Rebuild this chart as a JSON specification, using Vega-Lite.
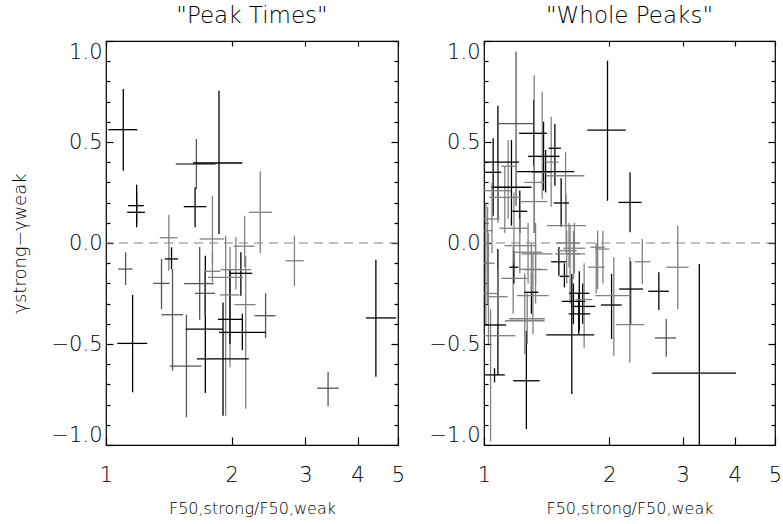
{
  "$schema": "https://vega.github.io/schema/vega-lite/v6.json",
  "background": "white",
  "padding": {"left": 10, "top": 4, "right": 2, "bottom": 2},
  "config": {
    "font": "DejaVu Sans",
    "view": {"stroke": "black", "strokeWidth": 1.2},
    "axis": {"domain": false, "grid": false, "labelFont": "DejaVu Sans", "labelFontSize": 21, "labelFontWeight": 200, "labelColor": "black", "tickColor": "black", "tickWidth": 1.2, "titleFont": "DejaVu Sans", "titleFontWeight": 200, "titleFontSize": 16, "titleColor": "black"},
    "title": {"font": "DejaVu Sans", "fontSize": 23, "fontWeight": 200, "color": "black", "offset": 12}
  },
  "datasets": {
    "peak": [
      {"x":1.10,"xlo":1.013,"xhi":1.188,"y":0.561,"ylo":0.358,"yhi":0.762,"c":"k"},
      {"x":1.184,"xlo":1.130,"xhi":1.232,"y":0.185,"ylo":0.10,"yhi":0.289,"c":"k"},
      {"x":1.184,"xlo":1.124,"xhi":1.239,"y":0.152,"ylo":0.078,"yhi":0.25,"c":"k"},
      {"x":1.646,"xlo":1.469,"xhi":1.830,"y":0.391,"ylo":0.267,"yhi":0.515,"c":"d"},
      {"x":1.864,"xlo":1.616,"xhi":2.120,"y":0.396,"ylo":0.045,"yhi":0.754,"c":"k"},
      {"x":1.634,"xlo":1.535,"xhi":1.739,"y":0.180,"ylo":0.078,"yhi":0.276,"c":"k"},
      {"x":2.340,"xlo":2.198,"xhi":2.499,"y":0.152,"ylo":-0.050,"yhi":0.355,"c":"g"},
      {"x":1.414,"xlo":1.345,"xhi":1.483,"y":0.026,"ylo":-0.137,"yhi":0.139,"c":"g"},
      {"x":1.435,"xlo":1.383,"xhi":1.488,"y":-0.079,"ylo":-0.129,"yhi":-0.021,"c":"k"},
      {"x":1.114,"xlo":1.070,"xhi":1.158,"y":-0.129,"ylo":-0.208,"yhi":-0.046,"c":"d"},
      {"x":1.158,"xlo":1.064,"xhi":1.255,"y":-0.497,"ylo":-0.739,"yhi":-0.257,"c":"k"},
      {"x":1.358,"xlo":1.297,"xhi":1.421,"y":-0.200,"ylo":-0.327,"yhi":-0.079,"c":"d"},
      {"x":1.443,"xlo":1.358,"xhi":1.529,"y":-0.355,"ylo":-0.632,"yhi":-0.129,"c":"d"},
      {"x":1.558,"xlo":1.421,"xhi":1.692,"y":-0.610,"ylo":-0.863,"yhi":-0.355,"c":"d"},
      {"x":1.676,"xlo":1.538,"xhi":1.810,"y":-0.201,"ylo":-0.380,"yhi":-0.020,"c":"d"},
      {"x":1.729,"xlo":1.552,"xhi":1.905,"y":-0.426,"ylo":-0.743,"yhi":-0.063,"c":"k"},
      {"x":1.726,"xlo":1.634,"xhi":1.823,"y":-0.249,"ylo":-0.36,"yhi":-0.144,"c":"d"},
      {"x":1.798,"xlo":1.676,"xhi":1.92,"y":0.02,"ylo":-0.10,"yhi":0.234,"c":"g"},
      {"x":1.798,"xlo":1.714,"xhi":1.878,"y":-0.14,"ylo":-0.195,"yhi":-0.05,"c":"g"},
      {"x":2.147,"xlo":2.021,"xhi":2.268,"y":-0.016,"ylo":-0.12,"yhi":0.135,"c":"g"},
      {"x":1.934,"xlo":1.755,"xhi":2.128,"y":-0.17,"ylo":-0.855,"yhi":0.036,"c":"g"},
      {"x":1.981,"xlo":1.872,"xhi":2.089,"y":-0.257,"ylo":-0.615,"yhi":-0.02,"c":"g"},
      {"x":2.046,"xlo":1.882,"xhi":2.227,"y":-0.132,"ylo":-0.23,"yhi":0.03,"c":"g"},
      {"x":2.103,"xlo":1.977,"xhi":2.239,"y":-0.15,"ylo":-0.261,"yhi":-0.046,"c":"k"},
      {"x":1.98,"xlo":1.852,"xhi":2.118,"y":-0.378,"ylo":-0.50,"yhi":-0.13,"c":"k"},
      {"x":2.12,"xlo":1.864,"xhi":2.41,"y":-0.442,"ylo":-0.53,"yhi":-0.35,"c":"k"},
      {"x":1.906,"xlo":1.651,"xhi":2.197,"y":-0.574,"ylo":-0.855,"yhi":-0.294,"c":"k"},
      {"x":2.16,"xlo":2.03,"xhi":2.28,"y":-0.305,"ylo":-0.82,"yhi":-0.063,"c":"g"},
      {"x":2.41,"xlo":2.268,"xhi":2.547,"y":-0.36,"ylo":-0.472,"yhi":-0.249,"c":"d"},
      {"x":2.825,"xlo":2.690,"xhi":2.973,"y":-0.088,"ylo":-0.214,"yhi":0.036,"c":"g"},
      {"x":3.401,"xlo":3.201,"xhi":3.605,"y":-0.719,"ylo":-0.808,"yhi":-0.637,"c":"d"},
      {"x":4.426,"xlo":4.19,"xhi":4.95,"y":-0.371,"ylo":-0.662,"yhi":-0.083,"c":"k"}
    ],
    "whole": [
      {"x":1.98,"xlo":1.77,"xhi":2.19,"y":0.559,"ylo":0.209,"yhi":0.902,"c":"k"},
      {"x":2.243,"xlo":2.104,"xhi":2.391,"y":0.201,"ylo":0.053,"yhi":0.35,"c":"k"},
      {"x":2.92,"xlo":2.74,"xhi":3.10,"y":-0.12,"ylo":-0.327,"yhi":0.086,"c":"g"},
      {"x":2.40,"xlo":2.306,"xhi":2.51,"y":-0.093,"ylo":-0.203,"yhi":0.02,"c":"g"},
      {"x":3.29,"xlo":2.535,"xhi":4.03,"y":-0.644,"ylo":-1.0,"yhi":-0.104,"c":"k"},
      {"x":2.63,"xlo":2.48,"xhi":2.78,"y":-0.239,"ylo":-0.332,"yhi":-0.145,"c":"k"},
      {"x":2.74,"xlo":2.573,"xhi":2.893,"y":-0.47,"ylo":-0.563,"yhi":-0.376,"c":"d"},
      {"x":2.025,"xlo":1.909,"xhi":2.142,"y":-0.307,"ylo":-0.475,"yhi":-0.153,"c":"k"},
      {"x":2.25,"xlo":2.112,"xhi":2.409,"y":-0.228,"ylo":-0.40,"yhi":-0.09,"c":"k"},
      {"x":2.24,"xlo":2.073,"xhi":2.423,"y":-0.404,"ylo":-0.591,"yhi":-0.071,"c":"g"},
      {"x":2.05,"xlo":1.85,"xhi":2.25,"y":-0.261,"ylo":-0.56,"yhi":-0.07,"c":"g"},
      {"x":1.625,"xlo":1.411,"xhi":1.84,"y":-0.455,"ylo":-0.748,"yhi":-0.153,"c":"k"},
      {"x":1.64,"xlo":1.538,"xhi":1.75,"y":-0.289,"ylo":-0.40,"yhi":-0.20,"c":"k"},
      {"x":1.694,"xlo":1.60,"xhi":1.79,"y":-0.249,"ylo":-0.434,"yhi":-0.14,"c":"k"},
      {"x":1.726,"xlo":1.618,"xhi":1.851,"y":-0.314,"ylo":-0.40,"yhi":-0.20,"c":"k"},
      {"x":1.689,"xlo":1.597,"xhi":1.80,"y":-0.351,"ylo":-0.45,"yhi":-0.25,"c":"k"},
      {"x":1.61,"xlo":1.48,"xhi":1.75,"y":-0.054,"ylo":-0.30,"yhi":0.09,"c":"g"},
      {"x":1.58,"xlo":1.50,"xhi":1.67,"y":-0.038,"ylo":-0.20,"yhi":0.06,"c":"g"},
      {"x":1.513,"xlo":1.45,"xhi":1.575,"y":-0.093,"ylo":-0.162,"yhi":-0.02,"c":"k"},
      {"x":1.56,"xlo":1.52,"xhi":1.60,"y":-0.165,"ylo":-0.22,"yhi":-0.10,"c":"k"},
      {"x":1.74,"xlo":1.66,"xhi":1.82,"y":-0.28,"ylo":-0.52,"yhi":-0.10,"c":"g"},
      {"x":1.08,"xlo":1.003,"xhi":1.13,"y":-0.406,"ylo":-0.653,"yhi":-0.03,"c":"k"},
      {"x":1.06,"xlo":1.006,"xhi":1.122,"y":-0.653,"ylo":-0.69,"yhi":-0.62,"c":"k"},
      {"x":1.264,"xlo":1.175,"xhi":1.36,"y":-0.682,"ylo":-0.921,"yhi":-0.434,"c":"k"},
      {"x":1.037,"xlo":1.0,"xhi":1.19,"y":-0.459,"ylo":-0.983,"yhi":-0.327,"c":"g"},
      {"x":1.253,"xlo":1.122,"xhi":1.398,"y":-0.385,"ylo":-0.55,"yhi":-0.15,"c":"g"},
      {"x":1.27,"xlo":1.15,"xhi":1.40,"y":-0.375,"ylo":-0.50,"yhi":-0.25,"c":"g"},
      {"x":1.311,"xlo":1.20,"xhi":1.43,"y":-0.261,"ylo":-0.45,"yhi":-0.05,"c":"g"},
      {"x":1.175,"xlo":1.10,"xhi":1.27,"y":-0.175,"ylo":-0.35,"yhi":-0.02,"c":"g"},
      {"x":1.08,"xlo":1.02,"xhi":1.14,"y":-0.266,"ylo":-0.40,"yhi":-0.13,"c":"g"},
      {"x":1.33,"xlo":1.23,"xhi":1.46,"y":-0.054,"ylo":-0.20,"yhi":0.10,"c":"g"},
      {"x":1.33,"xlo":1.25,"xhi":1.42,"y":-0.132,"ylo":-0.30,"yhi":0.0,"c":"g"},
      {"x":1.18,"xlo":1.15,"xhi":1.21,"y":-0.12,"ylo":-0.20,"yhi":-0.04,"c":"k"},
      {"x":1.30,"xlo":1.25,"xhi":1.35,"y":-0.244,"ylo":-0.35,"yhi":-0.15,"c":"k"},
      {"x":1.194,"xlo":1.078,"xhi":1.323,"y":0.591,"ylo":0.185,"yhi":0.947,"c":"d"},
      {"x":1.316,"xlo":1.214,"xhi":1.416,"y":0.543,"ylo":0.38,"yhi":0.71,"c":"k"},
      {"x":1.32,"xlo":1.25,"xhi":1.40,"y":0.30,"ylo":0.05,"yhi":0.83,"c":"g"},
      {"x":1.39,"xlo":1.276,"xhi":1.518,"y":0.429,"ylo":0.26,"yhi":0.60,"c":"k"},
      {"x":1.38,"xlo":1.30,"xhi":1.46,"y":0.35,"ylo":0.218,"yhi":0.749,"c":"g"},
      {"x":1.48,"xlo":1.43,"xhi":1.53,"y":0.469,"ylo":0.284,"yhi":0.589,"c":"k"},
      {"x":1.406,"xlo":1.20,"xhi":1.648,"y":0.353,"ylo":0.25,"yhi":0.46,"c":"k"},
      {"x":1.57,"xlo":1.411,"xhi":1.742,"y":0.333,"ylo":0.086,"yhi":0.449,"c":"g"},
      {"x":1.532,"xlo":1.47,"xhi":1.60,"y":0.198,"ylo":0.08,"yhi":0.32,"c":"k"},
      {"x":1.08,"xlo":1.005,"xhi":1.214,"y":0.40,"ylo":0.119,"yhi":0.68,"c":"k"},
      {"x":1.052,"xlo":1.0,"xhi":1.10,"y":0.35,"ylo":0.135,"yhi":0.518,"c":"k"},
      {"x":1.143,"xlo":1.10,"xhi":1.19,"y":0.38,"ylo":0.12,"yhi":0.51,"c":"g"},
      {"x":1.164,"xlo":1.043,"xhi":1.30,"y":0.276,"ylo":0.086,"yhi":0.51,"c":"k"},
      {"x":1.08,"xlo":1.0,"xhi":1.16,"y":0.259,"ylo":0.10,"yhi":0.40,"c":"g"},
      {"x":1.122,"xlo":1.03,"xhi":1.22,"y":0.226,"ylo":0.05,"yhi":0.38,"c":"g"},
      {"x":1.219,"xlo":1.17,"xhi":1.27,"y":0.157,"ylo":0.05,"yhi":0.26,"c":"k"},
      {"x":1.32,"xlo":1.22,"xhi":1.42,"y":0.205,"ylo":0.05,"yhi":0.38,"c":"g"},
      {"x":1.045,"xlo":1.0,"xhi":1.09,"y":0.119,"ylo":-0.05,"yhi":0.30,"c":"g"},
      {"x":1.02,"xlo":1.0,"xhi":1.05,"y":0.061,"ylo":-0.30,"yhi":0.18,"c":"g"},
      {"x":1.18,"xlo":1.09,"xhi":1.28,"y":0.073,"ylo":-0.10,"yhi":0.25,"c":"g"},
      {"x":1.575,"xlo":1.416,"xhi":1.758,"y":0.086,"ylo":-0.05,"yhi":0.24,"c":"g"},
      {"x":1.60,"xlo":1.49,"xhi":1.70,"y":0.0,"ylo":-0.12,"yhi":0.10,"c":"g"},
      {"x":1.649,"xlo":1.55,"xhi":1.75,"y":-0.026,"ylo":-0.15,"yhi":0.10,"c":"g"},
      {"x":1.64,"xlo":1.58,"xhi":1.70,"y":-0.054,"ylo":-0.18,"yhi":0.06,"c":"g"},
      {"x":1.875,"xlo":1.80,"xhi":1.95,"y":-0.021,"ylo":-0.228,"yhi":0.061,"c":"g"},
      {"x":1.93,"xlo":1.85,"xhi":2.0,"y":-0.03,"ylo":-0.20,"yhi":0.06,"c":"g"},
      {"x":1.86,"xlo":1.78,"xhi":1.95,"y":-0.12,"ylo":-0.25,"yhi":0.0,"c":"g"},
      {"x":1.219,"xlo":1.12,"xhi":1.33,"y":-0.013,"ylo":-0.15,"yhi":0.12,"c":"g"},
      {"x":1.276,"xlo":1.18,"xhi":1.38,"y":-0.046,"ylo":-0.20,"yhi":0.10,"c":"g"},
      {"x":1.30,"xlo":1.22,"xhi":1.38,"y":-0.13,"ylo":-0.25,"yhi":0.0,"c":"g"},
      {"x":1.45,"xlo":1.39,"xhi":1.51,"y":0.40,"ylo":0.18,"yhi":0.625,"c":"g"},
      {"x":1.01,"xlo":1.0,"xhi":1.06,"y":-0.10,"ylo":-0.40,"yhi":0.20,"c":"g"},
      {"x":1.025,"xlo":1.0,"xhi":1.08,"y":-0.25,"ylo":-0.50,"yhi":0.05,"c":"g"}
    ]
  },
  "bounds": "flush",
  "spacing": 86,
  "hconcat": [
    {
      "width": 292, "height": 404,
      "title": {"text": "\"Peak Times\""},
      "resolve": {"axis": {"x": "independent", "y": "independent"}},
      "layer": [
        {"data": {"values": [{}]}, "mark": {"type": "rule", "color": "#808080", "strokeDash": [9, 6], "strokeWidth": 1.2}, "encoding": {"y": {"datum": 0, "type": "quantitative", "axis": null}}},
        {"data": {"name": "peak"}, "mark": {"type": "rule", "strokeWidth": 1.3, "clip": true},
         "encoding": {
           "x": {"field": "x", "type": "quantitative", "scale": {"type": "log", "domain": [1, 5], "nice": false}, "axis": {"orient": "bottom", "values": [1,2,3,4,5], "format": "d", "labelFlush": false, "tickSize": -8, "labelPadding": 27, "title": "F50,strong/F50,weak", "titlePadding": 15}},
           "y": {"field": "ylo", "type": "quantitative", "scale": {"domain": [-1, 1], "nice": false, "zero": false}, "axis": {"orient": "left", "values": [-1,-0.9,-0.8,-0.7,-0.6,-0.5,-0.4,-0.3,-0.2,-0.1,0,0.1,0.2,0.3,0.4,0.5,0.6,0.7,0.8,0.9,1], "labelExpr": "abs(datum.value*2 - round(datum.value*2)) < 0.001 ? format(datum.value, '.1f') : ''", "tickSize": {"condition": {"test": "abs(datum.value*2 - round(datum.value*2)) < 0.001", "value": -7}, "value": -4}, "labelFlush": true, "labelPadding": 11, "title": "γstrong−γweak", "titleFontSize": 18, "titlePadding": 22}},
           "y2": {"field": "yhi"},
           "color": {"field": "c", "type": "nominal", "scale": {"domain": ["k","d","g"], "range": ["#000000","#555555","#808080"]}, "legend": null}
         }},
        {"data": {"name": "peak"}, "mark": {"type": "rule", "strokeWidth": 1.3, "clip": true},
         "encoding": {
           "x": {"field": "xlo", "type": "quantitative", "axis": {"orient": "top", "values": [1,2,3,4,5], "labels": false, "tickSize": -5, "title": null}},
           "x2": {"field": "xhi"},
           "y": {"field": "y", "type": "quantitative", "axis": {"orient": "right", "values": [-1,-0.9,-0.8,-0.7,-0.6,-0.5,-0.4,-0.3,-0.2,-0.1,0,0.1,0.2,0.3,0.4,0.5,0.6,0.7,0.8,0.9,1], "labels": false, "tickSize": {"condition": {"test": "abs(datum.value*2 - round(datum.value*2)) < 0.001", "value": -7}, "value": -4}, "title": null}},
           "color": {"field": "c", "type": "nominal", "legend": null}
         }}
      ]
    },
    {
      "width": 291, "height": 404,
      "title": {"text": "\"Whole Peaks\""},
      "resolve": {"axis": {"x": "independent", "y": "independent"}},
      "layer": [
        {"data": {"values": [{}]}, "mark": {"type": "rule", "color": "#808080", "strokeDash": [9, 6], "strokeWidth": 1.2}, "encoding": {"y": {"datum": 0, "type": "quantitative", "axis": null}}},
        {"data": {"name": "whole"}, "mark": {"type": "rule", "strokeWidth": 1.3, "clip": true},
         "encoding": {
           "x": {"field": "x", "type": "quantitative", "scale": {"type": "log", "domain": [1, 5], "nice": false}, "axis": {"orient": "bottom", "values": [1,2,3,4,5], "format": "d", "labelFlush": false, "tickSize": -8, "labelPadding": 27, "title": "F50,strong/F50,weak", "titlePadding": 15}},
           "y": {"field": "ylo", "type": "quantitative", "scale": {"domain": [-1, 1], "nice": false, "zero": false}, "axis": {"orient": "left", "values": [-1,-0.9,-0.8,-0.7,-0.6,-0.5,-0.4,-0.3,-0.2,-0.1,0,0.1,0.2,0.3,0.4,0.5,0.6,0.7,0.8,0.9,1], "labelExpr": "abs(datum.value*2 - round(datum.value*2)) < 0.001 ? format(datum.value, '.1f') : ''", "tickSize": {"condition": {"test": "abs(datum.value*2 - round(datum.value*2)) < 0.001", "value": -7}, "value": -4}, "labelFlush": true, "labelPadding": 11, "title": null}},
           "y2": {"field": "yhi"},
           "color": {"field": "c", "type": "nominal", "scale": {"domain": ["k","d","g"], "range": ["#000000","#555555","#808080"]}, "legend": null}
         }},
        {"data": {"name": "whole"}, "mark": {"type": "rule", "strokeWidth": 1.3, "clip": true},
         "encoding": {
           "x": {"field": "xlo", "type": "quantitative", "axis": {"orient": "top", "values": [1,2,3,4,5], "labels": false, "tickSize": -5, "title": null}},
           "x2": {"field": "xhi"},
           "y": {"field": "y", "type": "quantitative", "axis": {"orient": "right", "values": [-1,-0.9,-0.8,-0.7,-0.6,-0.5,-0.4,-0.3,-0.2,-0.1,0,0.1,0.2,0.3,0.4,0.5,0.6,0.7,0.8,0.9,1], "labels": false, "tickSize": {"condition": {"test": "abs(datum.value*2 - round(datum.value*2)) < 0.001", "value": -7}, "value": -4}, "title": null}},
           "color": {"field": "c", "type": "nominal", "legend": null}
         }}
      ]
    }
  ]
}
